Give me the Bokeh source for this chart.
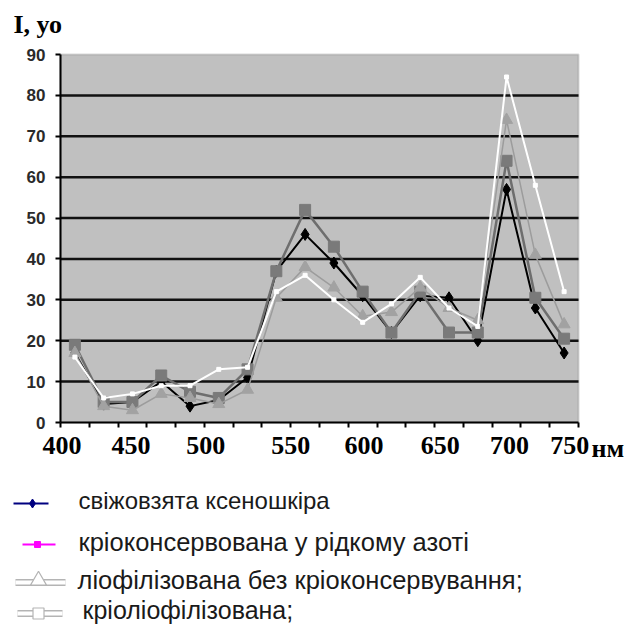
from bokeh.plotting import figure
from bokeh.models import Range1d, FixedTicker, BoxAnnotation
from bokeh.core.properties import value
from bokeh.embed import file_html
from bokeh.resources import INLINE

# ---- data ----
wavelength = [410, 430, 450, 470, 490, 510, 530, 550, 570, 590, 610, 630, 650, 670, 690, 710, 730, 750]
fresh = [17, 4.5, 5, 10, 4, 5.5, 11, 37, 46, 39, 31, 22, 31, 30.5, 20, 57, 28, 17]
cryo = [19, 5, 5, 11.5, 7.5, 6, 13, 37, 52, 43, 32, 22, 32, 22, 22, 64, 30.5, 20.5]
lyo = [17, 4, 3, 7, 6, 4.5, 8, 30.5, 38, 33, 26, 27, 33, 28, 25, 74, 41, 24]
cryolyo = [16, 6, 7, 9, 9, 13, 13.5, 32, 36, 30, 24.5, 29, 35.5, 28, 23.5, 84.5, 58, 32]

x_tick_labels = ["400", "450", "500", "550", "600", "650", "700", "750"]
y_ticks = [0, 10, 20, 30, 40, 50, 60, 70, 80, 90]
series_names = [
    "свіжовзята ксеношкіра",
    "кріоконсервована у рідкому азоті",
    "ліофілізована без кріоконсервування;",
    "кріоліофілізована;",
]
y_title = "I, уо"
x_unit = "нм"

# ---- layout / style ----
W, H = 634, 626
FL, FR, FT, FB = 60, 578, 54, 422        # plot area in canvas pixels
X0, X1, Y0, Y1 = 400, 760, 0, 90          # plot area in data units
sx = (FR - FL) / (X1 - X0)
sy = (FB - FT) / (Y1 - Y0)
x_label_pos = [401, 449, 501, 560, 611, 664, 712, 754]
cat_edges = list(range(X0, X1 + 1, 20))

p = figure(
    frame_width=W, frame_height=H, min_border=0,
    x_range=Range1d(X0 - FL / sx, X0 + (W - FL) / sx),
    y_range=Range1d(Y0 - (H - FB) / sy, Y0 + FB / sy),
    output_backend="svg", toolbar_location=None,
    background_fill_color="white", border_fill_color="white",
)
p.outline_line_color = None
p.xgrid.visible = False
p.ygrid.visible = False
p.extra_x_ranges = {"px": Range1d(0, W)}
p.extra_y_ranges = {"px": Range1d(H, 0)}

# plot area background
p.add_layout(BoxAnnotation(left=X0, right=X1, bottom=Y0, top=Y1, fill_color="#c0c0c0", fill_alpha=1,
                           line_color="#808080", line_width=2, level="underlay"))

# y axis
p.yaxis.fixed_location = X0
p.yaxis.bounds = (Y0, Y1)
p.yaxis.ticker = FixedTicker(ticks=y_ticks)
p.yaxis.axis_line_color = "black"
p.yaxis.axis_line_width = 2
p.yaxis.major_tick_out = 5
p.yaxis.major_tick_in = 0
p.yaxis.major_tick_line_width = 2
p.yaxis.minor_tick_out = 0
p.yaxis.minor_tick_in = 0
p.yaxis.major_label_standoff = 10
p.yaxis.major_label_text_font = "Liberation Sans"
p.yaxis.major_label_text_font_size = "17px"
p.yaxis.major_label_text_font_style = "bold"
p.yaxis.major_label_text_color = "#2a2a2a"

# x axis
p.xaxis.fixed_location = Y0
p.xaxis.bounds = (X0, X1)
p.xaxis.ticker = FixedTicker(ticks=x_label_pos, minor_ticks=cat_edges)
p.xaxis.major_label_overrides = {pos: lab for pos, lab in zip(x_label_pos, x_tick_labels)}
p.xaxis.axis_line_color = "black"
p.xaxis.axis_line_width = 2
p.xaxis.major_tick_out = 0
p.xaxis.major_tick_in = 0
p.xaxis.minor_tick_out = 5
p.xaxis.minor_tick_in = 0
p.xaxis.minor_tick_line_width = 2
p.xaxis.minor_tick_line_color = "black"
p.xaxis.major_label_standoff = 9
p.xaxis.major_label_text_font = "Liberation Serif"
p.xaxis.major_label_text_font_size = "26px"
p.xaxis.major_label_text_font_style = "bold"
p.xaxis.major_label_text_color = "black"

# horizontal grid lines (inside plot area only)
grid_y = y_ticks[1:-1]
p.segment(x0=[X0] * len(grid_y), y0=grid_y, x1=[X1] * len(grid_y), y1=grid_y,
          line_color="#111111", line_width=2.5)

# series
p.line(wavelength, fresh, line_color="black", line_width=2)
p.scatter(wavelength, fresh, marker="diamond", size=12, fill_color="black", line_color="black")

p.line(wavelength, cryo, line_color="#6e6e6e", line_width=2.5)
p.scatter(wavelength, cryo, marker="square", size=11, fill_color="#7a7a7a", line_color="#7a7a7a")

p.line(wavelength, lyo, line_color="#9c9c9c", line_width=1.5)
p.scatter(wavelength, lyo, marker="triangle", size=12, fill_color="#a2a2a2", line_color="#a2a2a2")

p.line(wavelength, cryolyo, line_color="white", line_width=2)
p.scatter(wavelength, cryolyo, marker="square", size=4, fill_color="white", line_color="white")

# titles (canvas pixel coordinates)
p.text([13], [23.5], text=[y_title], x_range_name="px", y_range_name="px",
       text_font=value("Liberation Serif"), text_font_style="bold",
       text_font_size=value("26px"), text_color="black",
       text_baseline="middle", text_align="left")
p.text([591], [448], text=[x_unit], x_range_name="px", y_range_name="px",
       text_font=value("Liberation Serif"), text_font_style="bold",
       text_font_size=value("26px"), text_color="black",
       text_baseline="middle", text_align="left")

# legend samples (canvas pixel coordinates)
kw = dict(x_range_name="px", y_range_name="px")
p.line([13, 48], [503, 503], line_color="#000080", line_width=2, **kw)
p.scatter([32], [503], marker="diamond", size=9, fill_color="#000080", line_color="#000080", **kw)
p.line([22, 55], [544, 544], line_color="#ff00ff", line_width=2, **kw)
p.scatter([37], [544], marker="square", size=6, fill_color="#ff00ff", line_color="#ff00ff", **kw)
p.line([15, 65], [582, 582], line_color="#b4b4b4", line_width=7, **kw)
p.line([15, 65], [582, 582], line_color="white", line_width=4, **kw)
p.scatter([38], [580], marker="triangle", size=16, fill_color="white", line_color="#b4b4b4", line_width=1.2, **kw)
p.line([17, 62], [613, 613], line_color="#b4b4b4", line_width=7, **kw)
p.line([17, 62], [613, 613], line_color="white", line_width=4, **kw)
p.scatter([38], [613], marker="square", size=11, fill_color="white", line_color="#b4b4b4", line_width=1.2, **kw)

p.text([78, 78, 77, 82], [500, 541, 579, 609], text=series_names, **kw,
       text_font=value("Liberation Sans"), text_font_size=["24px", "25.5px", "25.5px", "25px"],
       text_color="#1a1a1a", text_baseline="middle", text_align="left")

open("out.html", "w").write(file_html(p, INLINE))
